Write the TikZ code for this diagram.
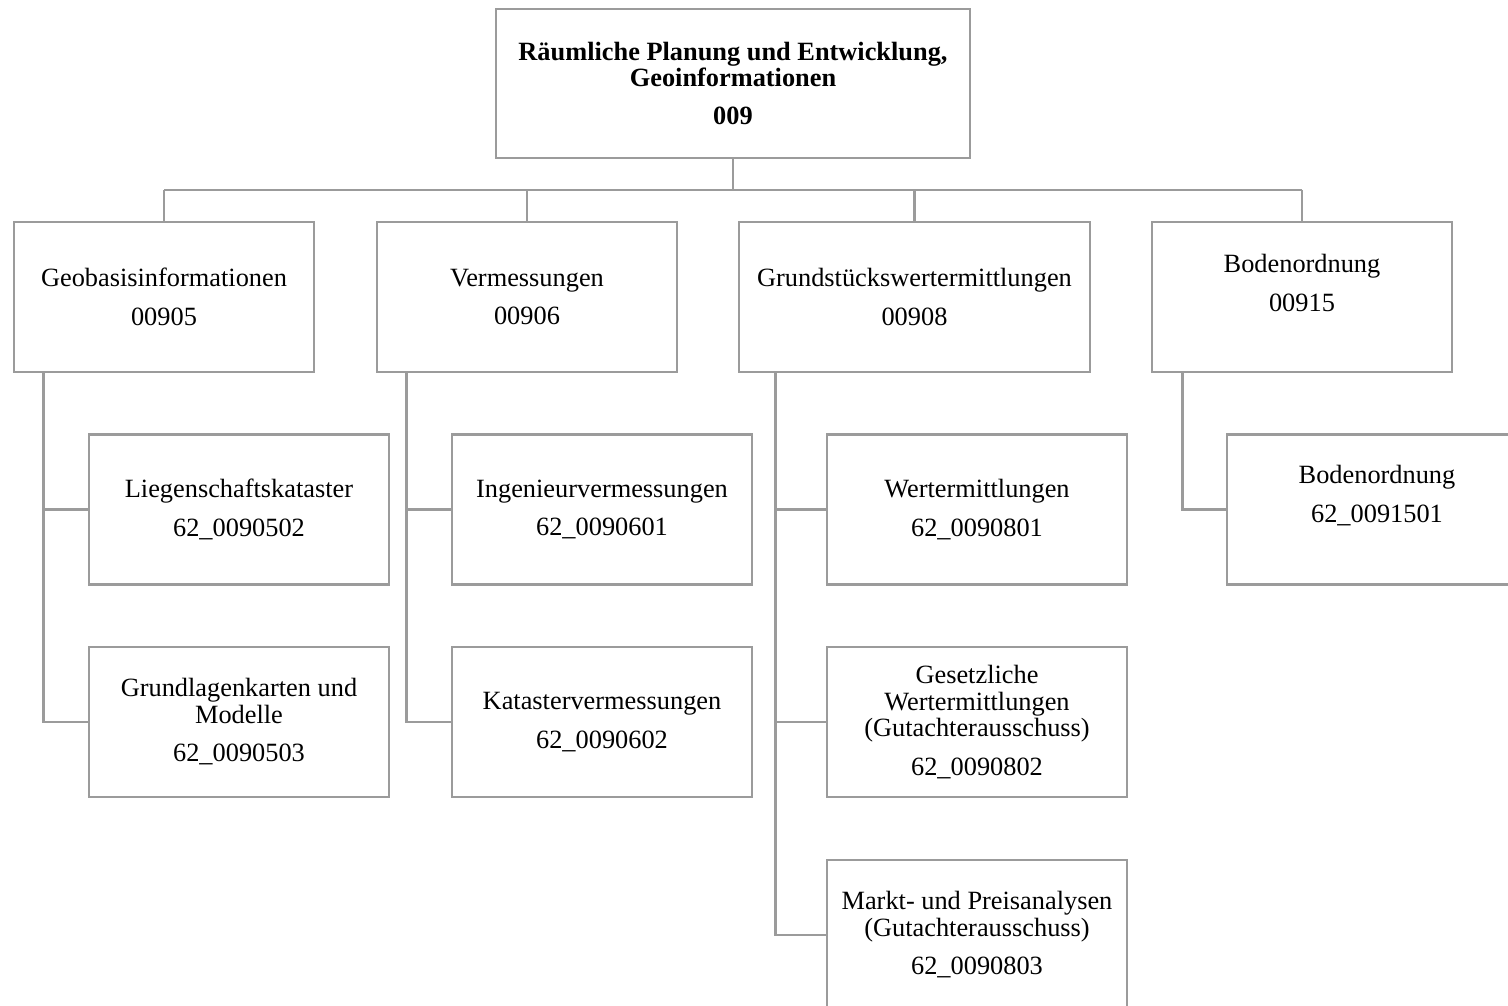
\documentclass[tikz,border=0pt]{standalone}
\usepackage{fontspec}
\setmainfont{Liberation Serif}
\usetikzlibrary{positioning}
\definecolor{linegray}{RGB}{155,155,155}

\begin{document}
\begin{tikzpicture}[x=0.02cm, y=-0.02cm,
    unit/.style={draw=linegray, line width=1.5pt, fill=white, align=center, minimum width=6cm, minimum height=3cm, inner sep=0pt, font=\fontsize{15}{15}\selectfont},
    raised/.style={label={[align=center, font=\fontsize{15}{15}\selectfont, yshift=0.28cm]center:{#1}}},
    link/.style={draw=linegray, line width=1.5pt}]

    \useasboundingbox (0,0) rectangle (1508,1006);
    \clip (0,0) rectangle (1508,1006);

    % top unit
    \node (top) [unit, minimum width=9.48cm, minimum height=2.98cm, font=\fontsize{15}{13}\selectfont\bfseries] at (733,83.5) {Räumliche Planung und Entwicklung,\\Geoinformationen\\[9pt]009};

    % first level
    \node (geo) [unit] at (164,297) {Geobasisinformationen\\[7pt]00905};
    \node (verm) [unit] at (527,297) {Vermessungen\\[7pt]00906};
    \node (grund) [unit, minimum width=7.02cm] at (914.5,297) {Grundstückswertermittlungen\\[7pt]00908};
    \node (bod) [unit, raised={Bodenordnung\\[7pt]00915}] at (1302,297) {};

    % second level
    \node (lieg) [unit] at (239,509.5) {Liegenschaftskataster\\[7pt]62\_0090502};
    \node (karten) [unit] at (239,722) {Grundlagenkarten und\\Modelle\\[7pt]62\_0090503};
    \node (ing) [unit] at (602,509.5) {Ingenieurvermessungen\\[7pt]62\_0090601};
    \node (kat) [unit] at (602,722) {Katastervermessungen\\[7pt]62\_0090602};
    \node (wert) [unit] at (977,509.5) {Wertermittlungen\\[7pt]62\_0090801};
    \node (gesetz) [unit] at (977,722) {Gesetzliche\\Wertermittlungen\\(Gutachterausschuss)\\[7pt]62\_0090802};
    \node (markt) [unit] at (977,935) {Markt- und Preisanalysen\\(Gutachterausschuss)\\[7pt]62\_0090803};
    \node (bodteil) [unit, raised={Bodenordnung\\[7pt]62\_0091501}] at (1377,509.5) {};

    % connectors
    \coordinate (bus) at (733,190);
    \draw [link] (top.south) -- (bus);
    \draw [link] (bus -| geo.north) -- (bus -| bod.north);
    \foreach \n in {geo, verm, grund, bod}
        \draw [link] (bus -| \n.north) -- (\n.north);

    \draw [link] ([xshift=0.62cm]geo.south west) |- (lieg.west);
    \draw [link] ([xshift=0.62cm]geo.south west) |- (karten.west);
    \draw [link] ([xshift=0.62cm]verm.south west) |- (ing.west);
    \draw [link] ([xshift=0.62cm]verm.south west) |- (kat.west);
    \draw [link] ([xshift=0.76cm]grund.south west) |- (wert.west);
    \draw [link] ([xshift=0.76cm]grund.south west) |- (gesetz.west);
    \draw [link] ([xshift=0.76cm]grund.south west) |- (markt.west);
    \draw [link] ([xshift=0.64cm]bod.south west) |- (bodteil.west);
\end{tikzpicture}
\end{document}
